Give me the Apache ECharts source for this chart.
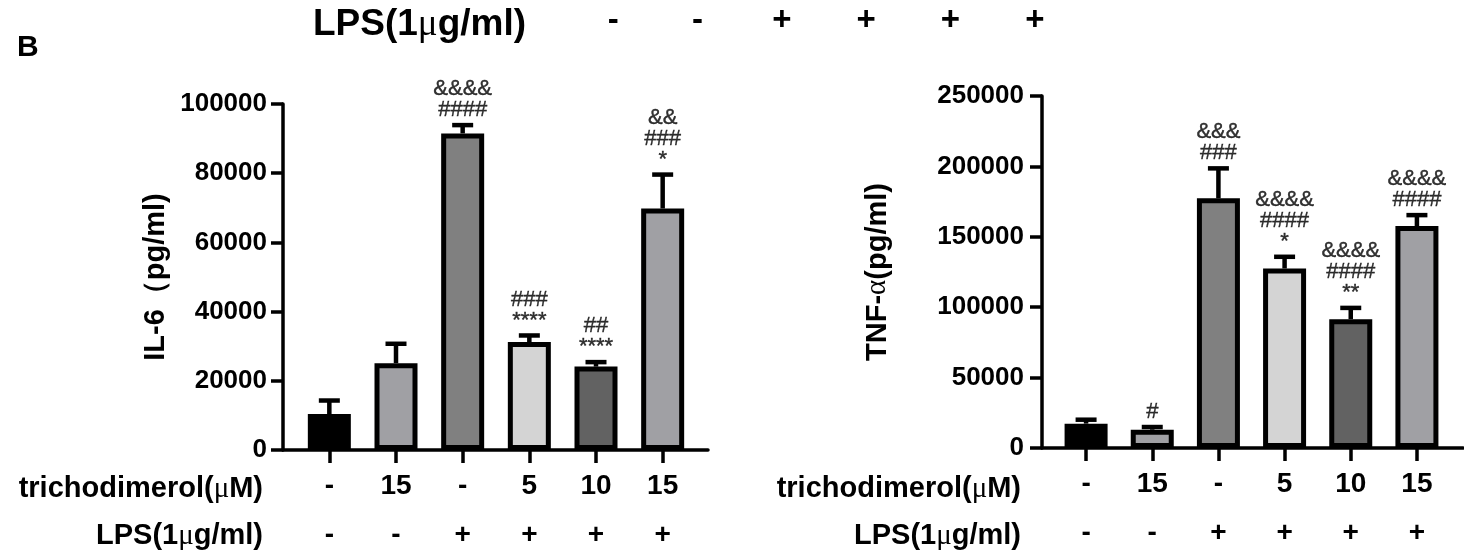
<!DOCTYPE html>
<html>
<head>
<meta charset="utf-8">
<script src="https://cdn.jsdelivr.net/npm/echarts@6/dist/echarts.min.js"></script>
<style>
html,body{margin:0;padding:0;background:#fff;}
#chart{width:1464px;height:551px;}
</style>
</head>
<body>
<div id="chart"></div>
<script>
// ---------------- data ----------------
const groupIndex = ['0', '1', '2', '3', '4', '5'];
const trichoLabels = ['-', '15', '-', '5', '10', '15'];
const lpsLabels = ['-', '-', '+', '+', '+', '+'];
const topLpsSigns = ['-', '-', '+', '+', '+', '+'];
const barColors = ['#000000', '#a0a0a4', '#808080', '#d4d4d4', '#626262', '#a0a0a4'];

const il6Mean = [10400, 25100, 91500, 31200, 24100, 69800];
const il6ErrTop = [14300, 30700, 93900, 33100, 25400, 79600];
const il6Marks = ['', '', '&&&&\n####', '###\n****', '##\n****', '&&\n###\n*'];
const il6Max = 100000;
const il6Interval = 20000;

const tnfMean = [17300, 13000, 177300, 127500, 91500, 157600];
const tnfErrTop = [20100, 14900, 198600, 135800, 99500, 165400];
const tnfMarks = ['', '#', '&&&\n###', '&&&&\n####\n*', '&&&&\n####\n**', '&&&&\n####'];
const tnfMax = 250000;
const tnfInterval = 50000;

// ---------------- styles ----------------
const FONT = "'Liberation Sans', Arial, sans-serif";
const SERIF = "'Liberation Serif', 'DejaVu Serif', serif";
const AXW = 3.5;

const muRich = {
  t: {fontFamily: FONT, fontWeight: 'bold', fontSize: 29, color: '#000', lineHeight: 32},
  m: {fontFamily: SERIF, fontWeight: 'normal', fontSize: 29, color: '#000', lineHeight: 32}
};

function errRender(params, api) {
  const x = api.value(0);
  const lo = api.coord([x, api.value(1)]);
  const hi = api.coord([x, api.value(2)]);
  const half = 10.5;
  const st = {stroke: '#000', lineWidth: 4.5};
  return {
    type: 'group',
    children: [
      {type: 'line', shape: {x1: lo[0], y1: lo[1], x2: hi[0], y2: hi[1]}, style: st},
      {type: 'line', shape: {x1: hi[0] - half, y1: hi[1], x2: hi[0] + half, y2: hi[1]}, style: st}
    ]
  };
}

function panel(gBar, means, errs, marks) {
  return [
    {
      type: 'bar', xAxisIndex: gBar, yAxisIndex: gBar, barWidth: 43,
      data: means.map((v, i) => ({value: v, itemStyle: {color: barColors[i], borderColor: '#000', borderWidth: 5}})),
      z: 2, animation: false
    },
    {
      type: 'custom', xAxisIndex: gBar, yAxisIndex: gBar,
      renderItem: errRender,
      encode: {x: 0, y: [1, 2]},
      data: means.map((v, i) => [i, v, errs[i]]),
      z: 3, animation: false
    },
    {
      type: 'scatter', xAxisIndex: gBar, yAxisIndex: gBar,
      symbolSize: 1, itemStyle: {color: 'rgba(0,0,0,0)'},
      data: errs.map((v, i) => [i, v]),
      label: {
        show: true, position: 'top', distance: 4,
        formatter: p => marks[p.dataIndex],
        fontFamily: FONT, fontSize: 22, lineHeight: 21, color: '#000',
        textBorderColor: '#000', textBorderWidth: 0.4
      },
      z: 4, animation: false, silent: true
    }
  ];
}

function catAxis(gi) {
  return {
    type: 'category', gridIndex: gi, data: groupIndex,
    axisLine: {show: false},
    axisTick: {show: true, alignWithLabel: true, inside: false, length: 13, lineStyle: {color: '#000', width: AXW}},
    axisLabel: {
      margin: 12,
      formatter: (v, idx) => '{a|' + trichoLabels[idx] + '}\n{b|' + lpsLabels[idx] + '}',
      rich: {
        a: {fontFamily: FONT, fontWeight: 'bold', fontSize: 28, color: '#000', lineHeight: 49},
        b: {fontFamily: FONT, fontWeight: 'bold', fontSize: 28, color: '#000', lineHeight: 49}
      }
    },
    splitLine: {show: false}
  };
}

function baseAxis(gi) {
  return {
    type: 'value', gridIndex: gi, min: 0, max: 1,
    axisLine: {show: true, lineStyle: {color: '#000', width: AXW}},
    axisTick: {show: false}, axisLabel: {show: false}, splitLine: {show: false}
  };
}

function hiddenY(gi, max) {
  return {type: 'value', gridIndex: gi, min: 0, max: max, show: false};
}

function visY(gi, max, interval, name, margin, gap) {
  return {
    type: 'value', gridIndex: gi, min: 0, max: max, interval: interval,
    axisLine: {show: true, lineStyle: {color: '#000', width: AXW}},
    axisTick: {show: true, inside: false, length: 12, lineStyle: {color: '#000', width: AXW}},
    axisLabel: {margin: margin, fontFamily: FONT, fontWeight: 'bold', fontSize: 26, color: '#000',
      formatter: v => String(v)},
    splitLine: {show: false},
    name: name, nameLocation: 'middle', nameRotate: 90, nameGap: gap,
    nameTextStyle: {
      rich: {
        t: {fontFamily: FONT, fontWeight: 'bold', fontSize: 29, color: '#000'},
        g: {fontFamily: SERIF, fontWeight: 'normal', fontSize: 29, color: '#000'}
      }
    }
  };
}

const option = {
  backgroundColor: '#ffffff',
  animation: false,
  title: [
    {text: 'B', left: 12, top: 28, textStyle: {fontFamily: FONT, fontWeight: 'bold', fontSize: 30, color: '#000'}},
    {text: '{t|LPS(1}{m|μ}{t|g/ml)}', left: 308, top: 0,
      textStyle: {rich: {
        t: {fontFamily: FONT, fontWeight: 'bold', fontSize: 37, color: '#000', lineHeight: 40},
        m: {fontFamily: SERIF, fontWeight: 'normal', fontSize: 37, color: '#000', lineHeight: 40}
      }}},
    {text: '{t|trichodimerol(}{m|μ}{t|M)}', right: 1464 - 268, top: 468, textStyle: {rich: muRich}},
    {text: '{t|LPS(1}{m|μ}{t|g/ml)}', right: 1464 - 268, top: 515, textStyle: {rich: muRich}},
    {text: '{t|trichodimerol(}{m|μ}{t|M)}', right: 1464 - 1026, top: 468, textStyle: {rich: muRich}},
    {text: '{t|LPS(1}{m|μ}{t|g/ml)}', right: 1464 - 1026, top: 515, textStyle: {rich: muRich}}
  ],
  grid: [
    {left: 296, top: 104, width: 400, height: 346},   // 0 left bars
    {left: 283, top: 104, width: 425, height: 346},   // 1 left frame
    {left: 1053, top: 96, width: 397, height: 352},   // 2 right bars
    {left: 1042, top: 96, width: 421, height: 352},   // 3 right frame
    {left: 571, top: 0, width: 506, height: 1}        // 4 header signs
  ],
  xAxis: [
    catAxis(0),
    baseAxis(1),
    catAxis(2),
    baseAxis(3),
    {
      type: 'category', gridIndex: 4, data: topLpsSigns.map((s, i) => String(i)),
      axisLine: {show: false}, axisTick: {show: false}, splitLine: {show: false},
      axisLabel: {margin: 2, formatter: (v, idx) => topLpsSigns[idx],
        fontFamily: FONT, fontWeight: 'bold', fontSize: 33, lineHeight: 36, color: '#000'}
    }
  ],
  yAxis: [
    hiddenY(0, il6Max),
    visY(1, il6Max, il6Interval, '{t|IL-6（pg/ml)}', 16, 113),
    hiddenY(2, tnfMax),
    visY(3, tnfMax, tnfInterval, '{t|TNF-}{g|α}{t|(pg/ml)}', 18, 150),
    {type: 'value', gridIndex: 4, show: false}
  ],
  series: [].concat(
    panel(0, il6Mean, il6ErrTop, il6Marks),
    panel(2, tnfMean, tnfErrTop, tnfMarks)
  )
};

const chart = echarts.init(document.getElementById('chart'), null, {renderer: 'canvas'});
chart.setOption(option);
</script>
</body>
</html>
